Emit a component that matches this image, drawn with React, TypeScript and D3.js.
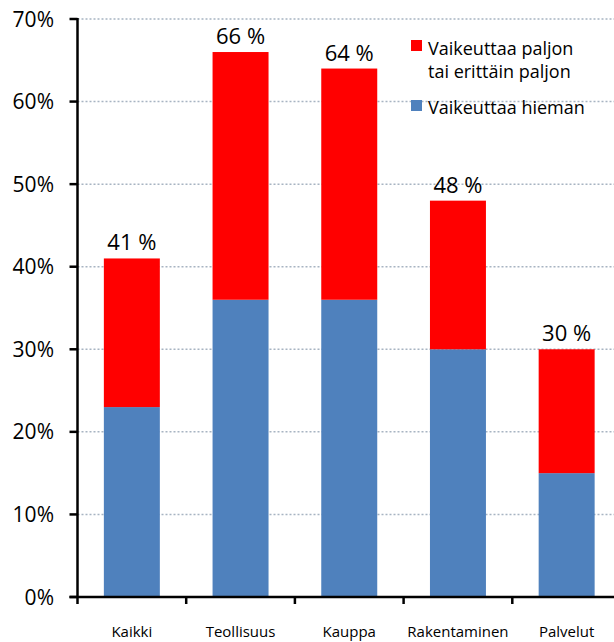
import React from 'react';
import * as d3 from 'd3';

const categories = ['Kaikki', 'Teollisuus', 'Kauppa', 'Rakentaminen', 'Palvelut'];
const hieman = [23, 36, 36, 30, 15];
const paljon = [18, 30, 28, 18, 15];
const totals = [41, 66, 64, 48, 30];
const yTicks = [0, 10, 20, 30, 40, 50, 60, 70];

const W = 614;
const H = 642;
const left = 77.5;
const top = 19;
const bottom = 597;
const step = 108.7;
const font = "'Open Sans', sans-serif";

const App: React.FC = () => {
  const y = d3.scaleLinear().domain([0, 70]).range([bottom, top]);
  // bar 56px wide in a 108.7px band
  const x = d3.scaleBand<string>().domain(categories).range([left, left + step * 5]).paddingInner(0.485).paddingOuter(0.2425);
  const ticksX = d3.range(0, 6).map((i) => left + i * step);

  return (
    <svg width={W} height={H} style={{ position: 'absolute', left: 0, top: 0 }}>
      {/* gridlines */}
      {yTicks.filter((t) => t > 0).map((t) => (
        <line key={t} x1={left} x2={W} y1={y(t)} y2={y(t)} stroke="#a7b4c2" strokeWidth={1.5} strokeDasharray="2,2" />
      ))}
      {/* bars */}
      {categories.map((c, i) => (
        <g key={c}>
          <rect x={x(c)} width={x.bandwidth()} y={y(hieman[i])} height={y(0) - y(hieman[i])} fill="#4f81bd" />
          <rect x={x(c)} width={x.bandwidth()} y={y(hieman[i] + paljon[i])} height={y(hieman[i]) - y(hieman[i] + paljon[i])} fill="#ff0000" />
          <text x={(x(c) as number) + x.bandwidth() / 2} y={y(totals[i]) - 8} textAnchor="middle" fontFamily={font} fontSize={22} fill="#000">
            {totals[i]} %
          </text>
          <text x={(x(c) as number) + x.bandwidth() / 2} y={637} textAnchor="middle" fontFamily={font} fontSize={15} fill="#000">
            {c}
          </text>
        </g>
      ))}
      {/* y axis */}
      <line x1={left} x2={left} y1={top - 1} y2={bottom} stroke="#000" strokeWidth={2.5} />
      {yTicks.map((t) => (
        <g key={t}>
          <line x1={left - 8} x2={left} y1={y(t)} y2={y(t)} stroke="#000" strokeWidth={2.5} />
          <text x={54} y={y(t) + 7.5} textAnchor="end" fontFamily={font} fontSize={21} fill="#000">
            {t}%
          </text>
        </g>
      ))}
      {/* x axis */}
      <line x1={left - 8} x2={W} y1={bottom} y2={bottom} stroke="#000" strokeWidth={2.5} />
      {ticksX.map((tx, i) => (
        <line key={i} x1={tx} x2={tx} y1={bottom} y2={bottom + 7} stroke="#000" strokeWidth={2.5} />
      ))}
      {/* legend */}
      <rect x={411} y={40} width={11} height={11} fill="#ff0000" />
      <text x={428} y={55} fontFamily={font} fontSize={18} fill="#000">Vaikeuttaa paljon</text>
      <text x={428} y={78} fontFamily={font} fontSize={18} fill="#000">tai erittäin paljon</text>
      <rect x={411} y={100} width={11} height={11} fill="#4f81bd" />
      <text x={428} y={114} fontFamily={font} fontSize={18} fill="#000">Vaikeuttaa hieman</text>
    </svg>
  );
};

export default App;
